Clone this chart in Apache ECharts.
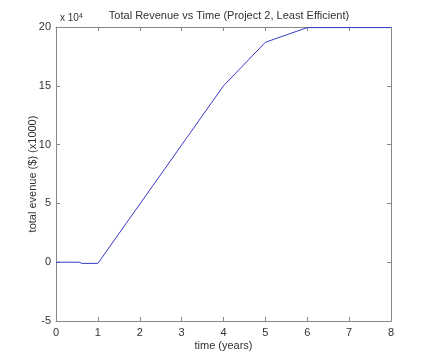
<!DOCTYPE html>
<html>
<head>
<meta charset="utf-8">
<style>html,body{margin:0;padding:0;background:#fff;}#c{width:432px;height:361px;}</style>
<script src="https://cdn.jsdelivr.net/npm/echarts@6/dist/echarts.min.js"></script>
</head>
<body>
<div id="c"></div>
<script>
var timeYears = [0, 0.55, 0.62, 1, 4, 5, 6, 7, 8];
var revenue = [0, 0, -0.1, -0.1, 15, 18.7, 19.95, 19.95, 19.95];
var xTicks = [0, 1, 2, 3, 4, 5, 6, 7, 8];
var yTicks = [-5, 0, 5, 10, 15, 20];

var font = 'Liberation Sans, Arial, sans-serif';
var axisGrey = '#888888';
var chart = echarts.init(document.getElementById('c'));
var pts = timeYears.map(function (t, i) { return [t, revenue[i]]; });
function axisBase(pos, show) {
  return {
    position: pos,
    axisLine: { show: true, onZero: false, lineStyle: { color: axisGrey, width: 1 } },
    axisTick: { show: true, inside: true, length: 4, lineStyle: { color: axisGrey } },
    splitLine: { show: false },
    axisLabel: { show: show, color: '#333', fontSize: 11, fontFamily: font }
  };
}
var xb = axisBase('bottom', true);
var xt = axisBase('top', false);
var yl = axisBase('left', true);
var yr = axisBase('right', false);
[xb, xt].forEach(function (a) { a.type = 'value'; a.min = xTicks[0]; a.max = xTicks[xTicks.length - 1]; a.interval = 1; });
[yl, yr].forEach(function (a) { a.type = 'value'; a.min = yTicks[0]; a.max = yTicks[yTicks.length - 1]; a.interval = 5; });
xb.axisLabel.margin = 6;
yl.axisLabel.margin = 5;
xb.name = 'time (years)'; xb.nameLocation = 'middle'; xb.nameGap = 19; xb.nameMoveOverlap = false;
xb.nameTextStyle = { color: '#333', fontSize: 11, fontFamily: font };
yl.name = 'total evenue ($) (x1000)'; yl.nameLocation = 'middle'; yl.nameGap = 18; yl.nameMoveOverlap = false;
yl.nameTextStyle = { color: '#333', fontSize: 11, fontFamily: font };
chart.setOption({
  animation: false,
  title: [{
    text: 'Total Revenue vs Time (Project 2, Least Efficient)',
    left: 224, top: 5, textAlign: 'center',
    textStyle: { color: '#333', fontSize: 11, fontWeight: 'normal', fontFamily: font }
  }, {
    text: 'x 10{s|4}',
    left: 55, top: 8,
    textStyle: { color: '#333', fontSize: 10, fontWeight: 'normal', fontFamily: font,
      rich: { s: { fontSize: 7, verticalAlign: 'top', color: '#333', fontFamily: font } } }
  }],
  grid: { left: 56, right: 41, top: 27, bottom: 40, containLabel: false },
  xAxis: [xb, xt],
  yAxis: [yl, yr],
  series: [{
    type: 'line', data: pts, xAxisIndex: 0, yAxisIndex: 0,
    showSymbol: false, symbol: 'none',
    lineStyle: { color: '#3a3ac8', width: 1 }
  }]
});
</script>
</body>
</html>
